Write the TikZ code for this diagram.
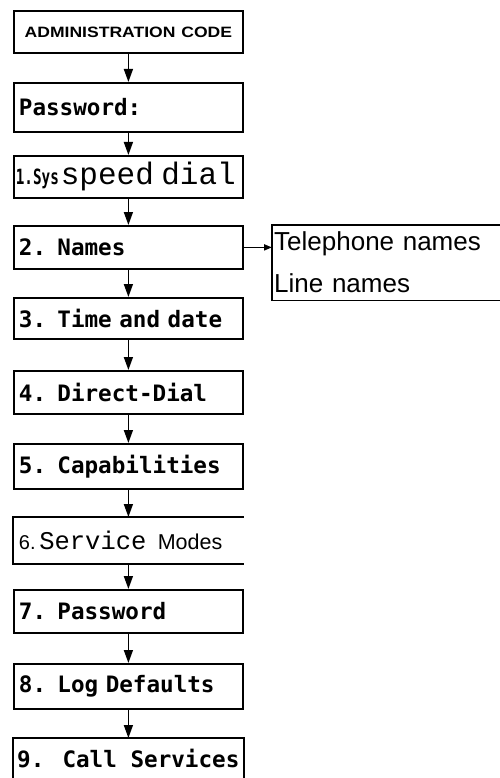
\documentclass[tikz,border=0pt]{standalone}
\usepackage{fontspec}
\usepackage{graphicx}
\usetikzlibrary{arrows.meta}
\setmainfont{Liberation Sans}
\newfontfamily\lcd[WordSpace={1,0,0}]{DejaVu Sans Mono}
\newfontfamily\cour{Liberation Mono}
\begin{document}
\begin{tikzpicture}[x=1pt,y=-1pt,
  box/.style={draw, line width=1.8pt, minimum width=229pt, text width=219pt,
    align=left, inner xsep=5pt, inner ysep=0pt, anchor=north west,
    font=\lcd\bfseries\fontsize{22.6}{24}\selectfont},
  openbox/.style={box, draw=none},
  flow/.style={line width=1.5pt, -{Triangle[length=13pt,width=9pt]}},
  sideflow/.style={line width=1.8pt, -{Triangle[length=8pt,width=6pt]}},
  edge/.style={line width=1.8pt},
]
\useasboundingbox (0,0) rectangle (499,778);
\node[box, minimum height=42pt, align=center,
  font=\bfseries\fontsize{15}{16}\selectfont] (b0) at (13,10)
  {\scalebox{1.17}[1]{ADMINISTRATION CODE}};
\node[box, minimum height=49pt] (b1) at (13,82) {Password:};
\node[box, minimum height=42pt] (b2) at (13,155)
  {\hspace{-3pt}\scalebox{0.68}[1]{\fontsize{21}{22}\selectfont 1.Sys}\hspace{2pt}{\cour\mdseries\fontsize{31}{32}\selectfont speed dial}};
\node[box, minimum height=43pt] (b3) at (13,225) {2. Names};
\node[box, minimum height=41pt] (b4) at (13,297) {3. Time and date};
\node[box, minimum height=43pt] (b5) at (13,370) {4. Direct-Dial};
\node[box, minimum height=45pt] (b6) at (13,443) {5. Capabilities};
\node[openbox, minimum height=45pt] (b7) at (13,517)
  {{\rmfamily\mdseries\fontsize{20}{22}\selectfont 6.}\,{\cour\mdseries\fontsize{25.5}{26}\selectfont Service}\hspace{0.5em}{\rmfamily\mdseries\fontsize{21.5}{22}\selectfont Modes}};
\draw[edge] (b7.north east) -- (b7.north west) -- (b7.south west) -- (b7.south east);
\node[box, minimum height=43pt] (b8) at (13,589) {7. Password};
\node[box, minimum height=45pt] (b9) at (13,663) {8. Log Defaults};
\node[openbox, minimum height=80pt] (b10) at (13,738) {};
\node[anchor=west, inner sep=0pt, font=\lcd\bfseries\fontsize{22.6}{24}\selectfont] (t10) at (17,759) {9. Call Services};
\draw[edge] (b10.south west) -- (b10.north west) -- (b10.north east) -- (b10.south east);
\foreach \a/\b in {b0/b1,b1/b2,b2/b3,b3/b4,b4/b5,b5/b6,b6/b7,b7/b8,b8/b9,b9/b10}
  \draw[flow] (\a.south) -- (\b.north);
\node[anchor=north west, minimum height=75pt, text width=232pt,
  inner xsep=2pt, inner ysep=0pt, align=left,
  font=\fontsize{26}{42}\selectfont] (rb) at (272,225)
  {Telephone names\\Line names};
\draw[edge] (rb.north east) -- (rb.north west) -- (rb.south west) -- (rb.south east);
\draw[sideflow] (b3.east) -- (rb.west |- b3.east);
\end{tikzpicture}
\end{document}
